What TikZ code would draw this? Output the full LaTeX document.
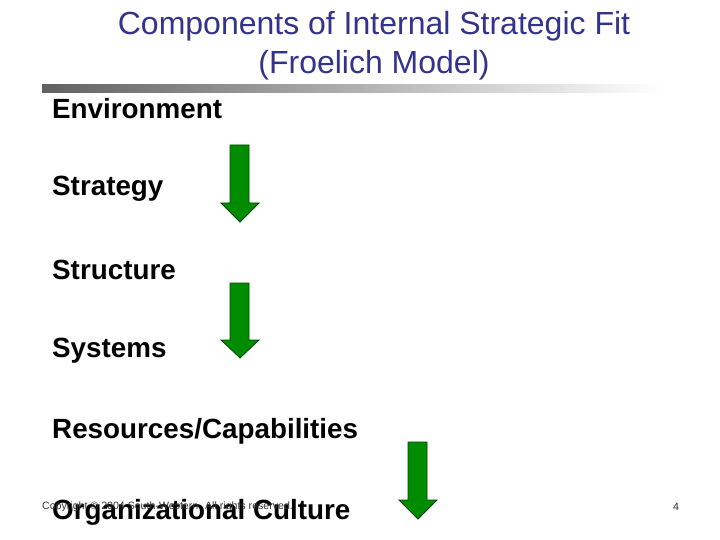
\documentclass[tikz,border=0pt]{standalone}
\usepackage{fontspec}
\setmainfont{Liberation Sans}
\definecolor{titleblue}{RGB}{51,51,140}
\definecolor{arrowgreen}{RGB}{0,140,0}
\definecolor{arrowedge}{RGB}{0,70,0}
\tikzset{
  titletext/.style={font=\fontsize{32}{36}\selectfont, text=titleblue, inner sep=0pt},
  item/.style={font=\bfseries\fontsize{27.8}{32}\selectfont, anchor=west, inner sep=0pt},
  downarrow/.style={fill=arrowgreen, draw=arrowedge, line width=0.8pt},
  smalltext/.style={font=\fontsize{10.6}{12}\selectfont, inner sep=0pt, text=black!80}
}
\begin{document}
\begin{tikzpicture}[x=1pt,y=-1pt]
\useasboundingbox (0,0) rectangle (720,540);
\node[titletext] (t1) at (374,26) {Components of Internal Strategic Fit};
\node[titletext] (t2) at (374,65) {(Froelich Model)};
\shade[left color=black!62, right color=white] (42,85) rectangle (662,93);
\node[item] (env) at (52,109) {Environment};
\node[item] (str) at (52,189) {Strategy};
\node[item] (stc) at (52,270) {Structure};
\node[item] (sys) at (52,351) {Systems};
\node[item] (res) at (52,431) {Resources/Capabilities};
\node[item] (cul) at (52,512) {Organizational Culture};
\node[smalltext, anchor=west] (copy) at (42,507) {Copyright © 2004 South-Western. All rights reserved.};
\node[smalltext] (pg) at (676,507) {4};
% arrows
\draw[downarrow] (230,145) -- (249,145) -- (249,203) -- (259,203) -- (240,222) -- (221,203) -- (230,203) -- cycle;
\draw[downarrow] (230,283) -- (249,283) -- (249,340) -- (259,340) -- (240,358) -- (221,340) -- (230,340) -- cycle;
\draw[downarrow] (408,442) -- (427,442) -- (427,500) -- (437,500) -- (418,519) -- (399,500) -- (408,500) -- cycle;
\end{tikzpicture}
\end{document}
